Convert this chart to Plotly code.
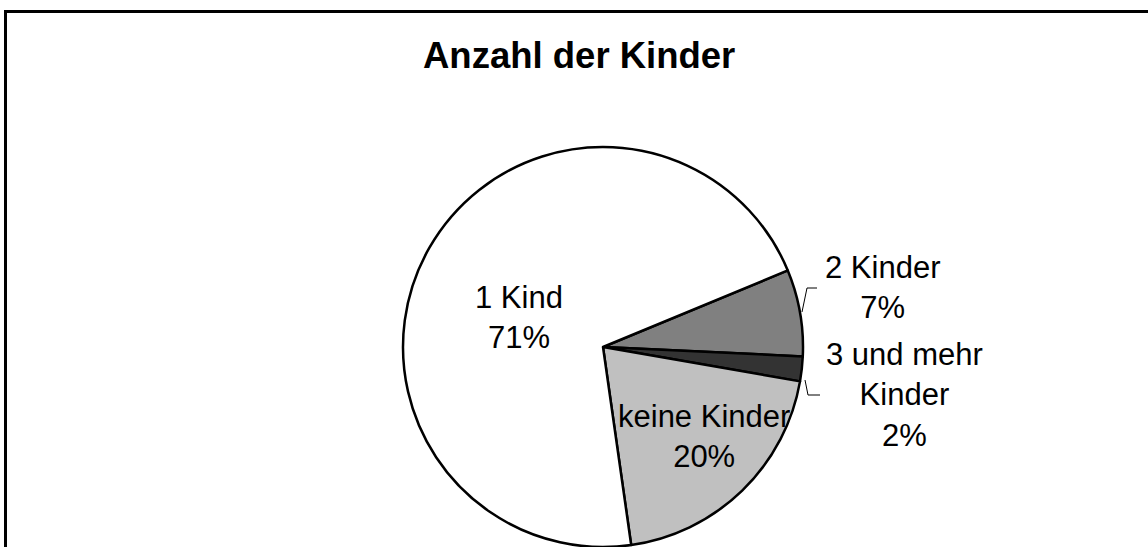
import plotly.graph_objects as go

W, H = 1148, 547

# ---- data ----
categories = ["2 Kinder", "3 und mehr Kinder", "keine Kinder", "1 Kind"]
values = [7, 2, 20, 71]
label_lines = [["2 Kinder"], ["3 und mehr", "Kinder"], ["keine Kinder"], ["1 Kind"]]
title_text = "Anzahl der Kinder"

# ---- styles ----
colors = ["#808080", "#333333", "#C0C0C0", "#FFFFFF"]
FONT = "Liberation Sans, Arial, sans-serif"


def px(x, y):
    """screen pixel -> paper coordinates"""
    return x / W, 1 - y / H


# pie geometry (screen pixels)
cx, cy, R = 603, 347, 200
x0, y_top = px(cx - R, cy - R)
x1, y_bot = px(cx + R, cy + R)

fig = go.Figure()
fig.add_trace(go.Pie(
    labels=categories, values=values, sort=False,
    direction="clockwise", rotation=67.5,
    marker=dict(colors=colors, line=dict(color="black", width=2.5)),
    textinfo="none", hoverinfo="label+percent", showlegend=False,
    domain=dict(x=[x0, x1], y=[max(0, y_bot), y_top]),
))

total = sum(values)
# label centres (screen pixels)
label_pos = [(882, 287), (904, 395), (704, 436), (519, 317)]
for lines, v, (lx, ly) in zip(label_lines, values, label_pos):
    txt = "<br>".join(lines + [f"{round(100 * v / total)}%"])
    x, y = px(lx, ly)
    fig.add_annotation(x=x, y=y, xref="paper", yref="paper", text=txt,
                       showarrow=False, xanchor="center", yanchor="middle",
                       font=dict(family=FONT, size=31, color="black"))

tx, ty = px(579, 55)
fig.add_annotation(x=tx, y=ty, xref="paper", yref="paper", text=f"<b>{title_text}</b>",
                   showarrow=False, xanchor="center", yanchor="middle",
                   font=dict(family=FONT, size=36.5, color="black"))

# leader lines (screen pixels)
for pts in ([(817, 288), (807, 288), (802, 312)], [(805, 380), (808, 395), (820, 395)]):
    pp = [px(x, y) for x, y in pts]
    for (ax, ay), (bx, by) in zip(pp[:-1], pp[1:]):
        fig.add_shape(type="line", xref="paper", yref="paper",
                      x0=ax, y0=ay, x1=bx, y1=by,
                      line=dict(color="black", width=1))

# chart border (top and left visible)
bx0, by0 = px(5.5, 11.5)
fig.add_shape(type="line", xref="paper", yref="paper",
              x0=bx0, y0=by0, x1=1.01, y1=by0,
              line=dict(color="black", width=3))
fig.add_shape(type="line", xref="paper", yref="paper",
              x0=bx0, y0=px(0, 10)[1], x1=bx0, y1=-0.02,
              line=dict(color="black", width=3))

fig.update_layout(width=W, height=H, margin=dict(l=0, r=0, t=0, b=0),
                  paper_bgcolor="white", plot_bgcolor="white")
fig.write_html("out.html", config={"displayModeBar": False},
               post_script="document.body.style.margin='0';document.body.style.overflow='hidden';")
